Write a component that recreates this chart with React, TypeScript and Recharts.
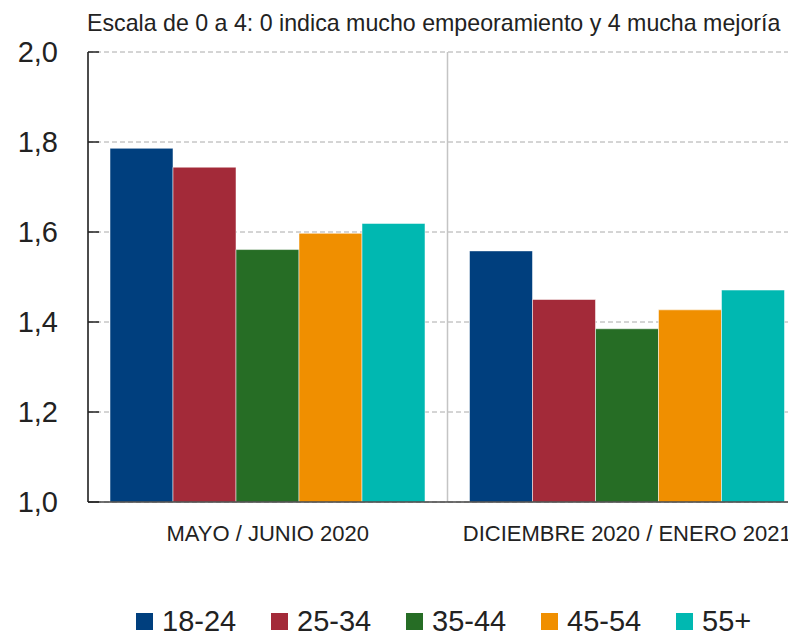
import React from 'react';
import { BarChart, Bar, XAxis, YAxis, CartesianGrid, Legend } from 'recharts';

const periods = ['MAYO / JUNIO 2020', 'DICIEMBRE 2020 / ENERO 2021'];
const ageGroups = ['18-24', '25-34', '35-44', '45-54', '55+'];
const age1824 = [1.786, 1.558];
const age2534 = [1.744, 1.45];
const age3544 = [1.561, 1.385];
const age4554 = [1.597, 1.427];
const age55 = [1.619, 1.471];
const yTicks = [1.0, 1.2, 1.4, 1.6, 1.8, 2.0];

const seriesValues = [age1824, age2534, age3544, age4554, age55];
const colors = ['#003f7e', '#a32a39', '#266d25', '#f08f00', '#00b8b1'];

const data = periods.map((p, i) => {
  const row: Record<string, string | number> = { period: p };
  ageGroups.forEach((g, j) => {
    row[g] = seriesValues[j][i];
  });
  return row;
});

const font = '"Liberation Sans", Arial, sans-serif';

const LegendContent = () => (
  <div style={{ display: 'flex', height: 40, paddingLeft: 136, fontFamily: font }}>
    {ageGroups.map((g, i) => (
      <div key={g} style={{ width: 135, display: 'flex', alignItems: 'center', height: 40 }}>
        <span style={{ width: 17, height: 17, background: colors[i], display: 'inline-block', marginRight: 9 }} />
        <span style={{ fontSize: 29, lineHeight: '29px', color: '#222' }}>{g}</span>
      </div>
    ))}
  </div>
);

const App: React.FC = () => {
  return (
    <div style={{ position: 'relative', margin: -8, width: 796, height: 640, overflow: 'hidden', background: '#fff' }}>
      <div
        style={{
          position: 'absolute',
          left: 87,
          top: 12,
          fontFamily: font,
          fontSize: 23.2,
          lineHeight: '23px',
          color: '#222',
          whiteSpace: 'nowrap',
        }}
      >
        Escala de 0 a 4: 0 indica mucho empeoramiento y 4 mucha mejoría
      </div>
      <BarChart
        width={820}
        height={640}
        data={data}
        margin={{ top: 52, right: 13, left: 0, bottom: 0 }}
        barCategoryGap={22}
        barGap={0}
      >
        <CartesianGrid vertical={false} stroke="#aaaaaa" strokeDasharray="5 3" />
        <CartesianGrid
          horizontal={false}
          stroke="#c4c4c4"
          strokeWidth={1.5}
          verticalCoordinatesGenerator={({ offset }: any) => [offset.left + offset.width / 2]}
        />
        <XAxis
          dataKey="period"
          height={98}
          tickSize={0}
          tickMargin={23}
          tickLine={false}
          axisLine={{ stroke: '#444', strokeWidth: 1.5 }}
          tick={{ fontSize: 22, fill: '#222', fontFamily: font }}
        />
        <YAxis
          width={88}
          domain={[1, 2]}
          ticks={yTicks}
          allowDataOverflow
          tickFormatter={(v: number) => v.toFixed(1).replace('.', ',')}
          tickSize={-11}
          tickMargin={41}
          tickLine={{ stroke: '#222', strokeWidth: 1.5 }}
          axisLine={{ stroke: '#111', strokeWidth: 1.5 }}
          tick={{ fontSize: 29, fill: '#222', fontFamily: font }}
        />
        <Legend
          verticalAlign="bottom"
          wrapperStyle={{ left: 0, top: 601, width: 820 }}
          content={() => <LegendContent />}
        />
        {ageGroups.map((g, i) => (
          <Bar
            key={g}
            dataKey={g}
            fill={colors[i]}
            stroke="rgba(255,255,255,0.5)"
            strokeWidth={1}
            isAnimationActive={false}
          />
        ))}
      </BarChart>
    </div>
  );
};

export default App;
